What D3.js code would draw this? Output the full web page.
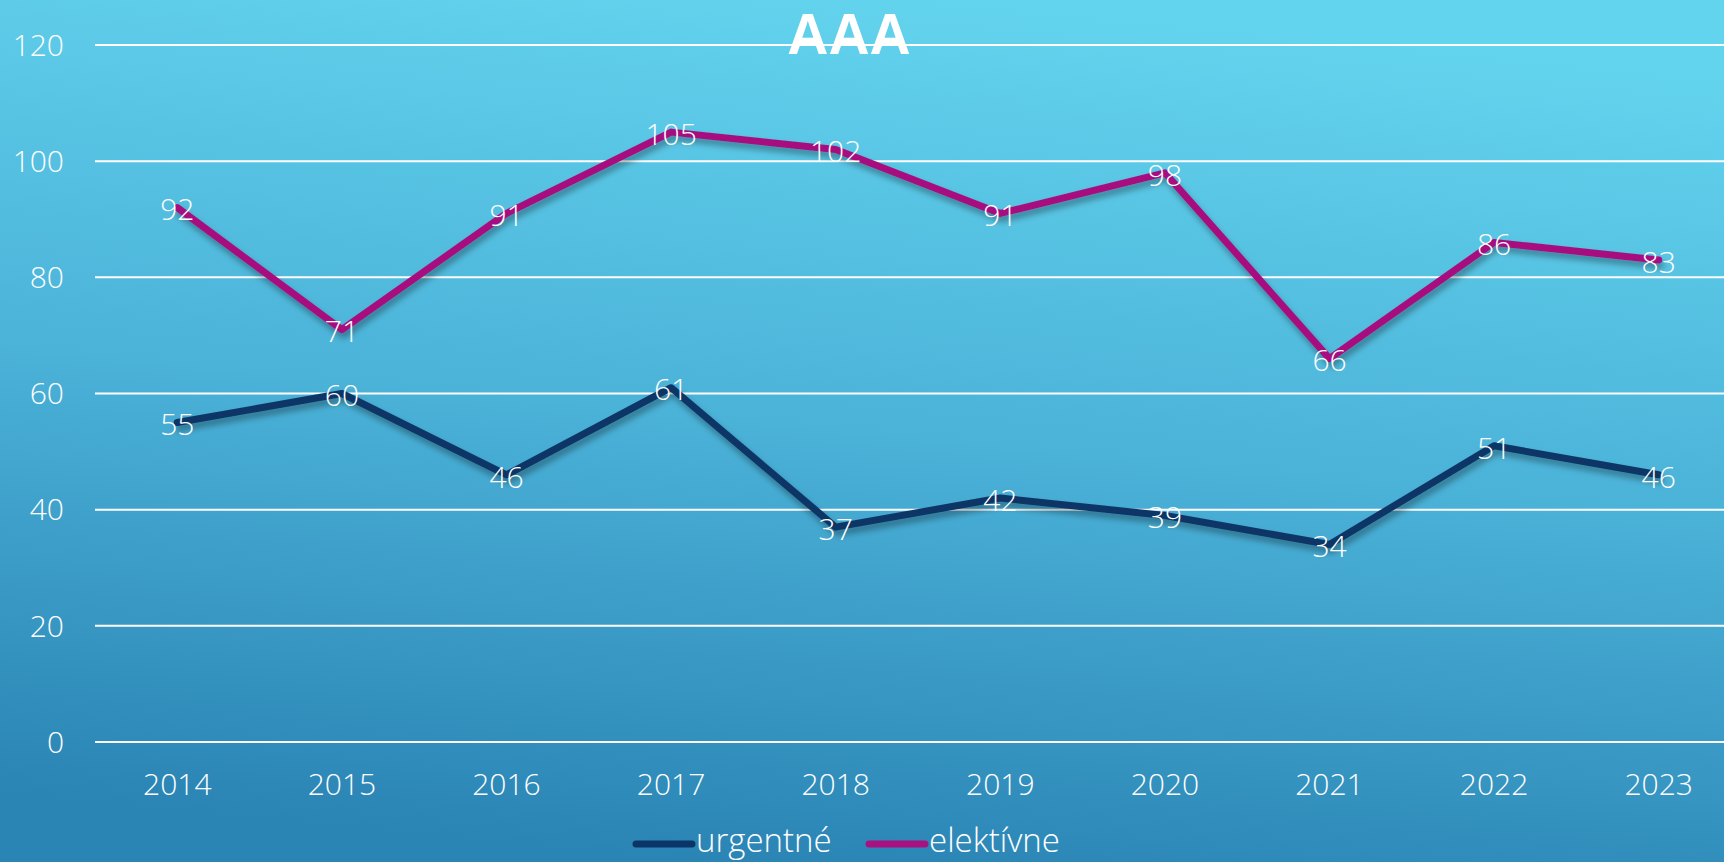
<!DOCTYPE html>
<html>
<head>
<meta charset="utf-8">
<script src="https://cdn.jsdelivr.net/npm/d3@7"></script>
<style>
  body { margin: 0; overflow: hidden; }
  svg { display: block; }
  text { font-family: "Open Sans", "Lato", sans-serif; font-weight: 300; fill: #fff; }
</style>
</head>
<body>
<svg id="chart" width="1724" height="862"></svg>
<script>
const years = ["2014", "2015", "2016", "2017", "2018", "2019", "2020", "2021", "2022", "2023"];
const urgentne = [55, 60, 46, 61, 37, 42, 39, 34, 51, 46];
const elektivne = [92, 71, 91, 105, 102, 91, 98, 66, 86, 83];
const y_ticks = [0, 20, 40, 60, 80, 100, 120];

const series = [
  {name: "urgentné", values: urgentne, color: "#0b3566"},
  {name: "elektívne", values: elektivne, color: "#a8117f"}
];

const svg = d3.select("#chart");
const W = 1724, H = 862;

// background gradient
const defs = svg.append("defs");
const grad = defs.append("linearGradient")
    .attr("id", "bg")
    .attr("x1", "0.6").attr("y1", "0")
    .attr("x2", "0.4").attr("y2", "1");
grad.append("stop").attr("offset", "0").attr("stop-color", "#63d4ee");
grad.append("stop").attr("offset", "0.5").attr("stop-color", "#4bb2d8");
grad.append("stop").attr("offset", "1").attr("stop-color", "#2a84b4");

const shadow = defs.append("filter")
    .attr("id", "shadow")
    .attr("x", "-5%").attr("y", "-20%")
    .attr("width", "110%").attr("height", "140%");
shadow.append("feDropShadow")
    .attr("dx", 2).attr("dy", 5)
    .attr("stdDeviation", 3)
    .attr("flood-color", "#000")
    .attr("flood-opacity", 0.35);

svg.append("rect")
    .attr("width", W).attr("height", H)
    .attr("fill", "url(#bg)");

const x = d3.scaleBand()
    .domain(years)
    .range([95, 1741]);

const y = d3.scaleLinear()
    .domain([0, 120])
    .range([742, 45]);

const cx = d => x(d) + x.bandwidth() / 2;

// gridlines
svg.append("g")
    .classed("grid", true)
  .selectAll("line")
  .data(y_ticks)
  .join("line")
    .attr("x1", 95).attr("x2", W)
    .attr("y1", d => y(d)).attr("y2", d => y(d))
    .attr("stroke", "#fff")
    .attr("stroke-width", 2);

// y axis labels
svg.append("g")
  .selectAll("text")
  .data(y_ticks)
  .join("text")
    .attr("x", 64)
    .attr("y", d => y(d))
    .attr("dy", "0.36em")
    .attr("text-anchor", "end")
    .style("font-size", "30px")
    .text(d => d);

// x axis labels
svg.append("g")
  .selectAll("text")
  .data(years)
  .join("text")
    .attr("x", d => cx(d))
    .attr("y", 795)
    .attr("text-anchor", "middle")
    .style("font-size", "30px")
    .text(d => d);

// title
svg.append("text")
    .attr("x", 849)
    .attr("y", 54)
    .attr("text-anchor", "middle")
    .style("font-family", "'Liberation Sans', Arial, sans-serif")
    .style("font-weight", "bold")
    .style("font-size", "57px")
    .text("AAA");

const line = d3.line()
    .x((d, i) => cx(years[i]))
    .y(d => y(d));

// lines
svg.append("g")
  .selectAll("path")
  .data(series)
  .join("path")
    .attr("d", d => line(d.values))
    .attr("fill", "none")
    .attr("stroke", d => d.color)
    .attr("stroke-width", 7)
    .attr("stroke-linejoin", "round")
    .attr("stroke-linecap", "round")
    .attr("filter", "url(#shadow)");

// data labels
series.forEach(s => {
  svg.append("g")
    .selectAll("text")
    .data(s.values)
    .join("text")
      .attr("x", (d, i) => cx(years[i]))
      .attr("y", d => y(d) + 2)
      .attr("dy", "0.36em")
      .attr("text-anchor", "middle")
      .style("font-size", "30px")
      .text(d => d);
});

// legend
const legend_items = [
  {s: series[0], x1: 636, x2: 692, tx: 696},
  {s: series[1], x1: 869, x2: 925, tx: 929}
];
const lg = svg.append("g").classed("legend", true);
legend_items.forEach(it => {
  lg.append("line")
      .attr("x1", it.x1).attr("x2", it.x2)
      .attr("y1", 844).attr("y2", 844)
      .attr("stroke", it.s.color)
      .attr("stroke-width", 7)
      .attr("stroke-linecap", "round");
  lg.append("text")
      .attr("x", it.tx)
      .attr("y", 840)
      .attr("dy", "0.36em")
      .style("font-size", "33px")
      .text(it.s.name);
});
</script>
</body>
</html>
